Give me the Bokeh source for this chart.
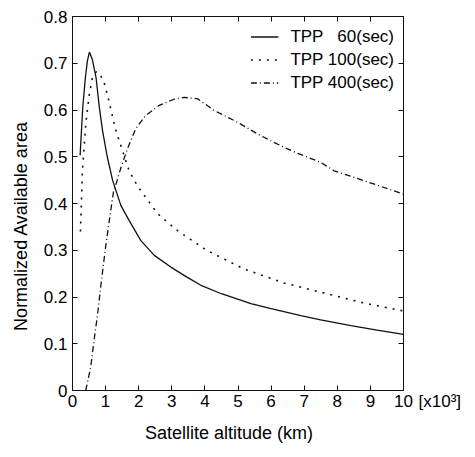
from bokeh.plotting import figure
from bokeh.models import (Legend, LegendItem, LinearAxis, Range1d, FixedTicker,
                          CustomJSTickFormatter)
from bokeh.embed import file_html
from bokeh.resources import INLINE

# Satellite altitude (x10^3 km) and normalized available area
alt_60 = [0.23, 0.31, 0.39, 0.45, 0.51, 0.60, 0.71, 0.81, 0.91, 1.05, 1.21, 1.46, 1.71,
          2.06, 2.47, 2.97, 3.47, 3.88, 4.50, 5.39, 6.00, 6.90, 7.50, 8.41, 9.20, 10.0]
val_60 = [0.503, 0.606, 0.670, 0.705, 0.724, 0.708, 0.670, 0.606, 0.555, 0.500, 0.450,
          0.396, 0.364, 0.321, 0.289, 0.264, 0.242, 0.225, 0.207, 0.186, 0.175, 0.160,
          0.151, 0.139, 0.129, 0.120]

alt_100 = [0.24, 0.30, 0.40, 0.50, 0.60, 0.72, 0.82, 0.95, 1.07, 1.31, 1.71, 1.96, 2.57,
           3.17, 4.05, 5.18, 6.39, 7.80, 8.81, 10.0]
val_100 = [0.340, 0.470, 0.570, 0.630, 0.668, 0.682, 0.678, 0.660, 0.628, 0.556, 0.470,
           0.438, 0.378, 0.342, 0.300, 0.260, 0.230, 0.205, 0.187, 0.170]

alt_400 = [0.40, 0.55, 0.65, 0.76, 0.85, 1.00, 1.14, 1.24, 1.36, 1.46, 1.66, 1.91, 2.21,
           2.62, 3.07, 3.37, 3.78, 4.28, 4.98, 5.69, 6.39, 6.85, 7.50, 7.90, 8.80, 10.0]
val_400 = [0.000, 0.050, 0.107, 0.164, 0.221, 0.307, 0.378, 0.425, 0.452, 0.476, 0.517,
           0.560, 0.588, 0.610, 0.623, 0.627, 0.624, 0.599, 0.574, 0.545, 0.520, 0.506,
           0.488, 0.470, 0.449, 0.420]

series_labels = ["TPP \u200760(sec)", "TPP 100(sec)", "TPP 400(sec)"]
x_ticks = [0, 1, 2, 3, 4, 5, 6, 7, 8, 9, 10]
y_ticks = [0, 0.1, 0.2, 0.3, 0.4, 0.5, 0.6, 0.7, 0.8]
y_tick_labels = ["0", "0.1", "0.2", "0.3", "0.4", "0.5", "0.6", "0.7", "0.8"]
x_multiplier = "[x10\u00b3]"
x_title = "Satellite altitude (km)"
y_title = "Normalized Available area"

FONT = "Liberation Sans"
INK = "#111111"

p = figure(width=470, height=452, output_backend="svg", toolbar_location=None,
           x_range=Range1d(0, 10), y_range=Range1d(0, 0.8),
           min_border_left=72, min_border_right=67, min_border_top=16,
           min_border_bottom=62, background_fill_color="white",
           border_fill_color="white")
p.grid.visible = False
p.outline_line_color = INK

r60 = p.line(alt_60, val_60, line_color=INK, line_width=1.3)
r100 = p.line(alt_100, val_100, line_color=INK, line_width=1.6, line_dash="2 6")
r400 = p.line(alt_400, val_400, line_color=INK, line_width=1.3, line_dash="6 3 1 3")

def style_axis(ax, ticks):
    ax.ticker = FixedTicker(ticks=ticks)
    ax.major_tick_in = 5
    ax.major_tick_out = 0
    ax.minor_tick_in = 0
    ax.minor_tick_out = 0
    ax.axis_line_color = INK
    ax.major_tick_line_color = INK
    ax.major_label_text_font = FONT
    ax.major_label_text_font_size = "17px"
    ax.major_label_text_color = "black"
    ax.axis_label_text_font = FONT
    ax.axis_label_text_font_size = "18px"
    ax.axis_label_text_font_style = "normal"
    ax.axis_label_text_color = "black"

style_axis(p.xaxis[0], x_ticks)
style_axis(p.yaxis[0], y_ticks)
p.yaxis[0].major_label_overrides = {t: s for t, s in zip(y_ticks, y_tick_labels)}
p.xaxis[0].major_label_standoff = 4
p.yaxis[0].major_label_standoff = 5

# trailing em-spaces nudge the titles off-centre, as in the original
p.xaxis[0].axis_label = x_title + "\u2003"
p.xaxis[0].axis_label_standoff = 13
p.yaxis[0].axis_label = y_title + "\u2003\u2003\u2002"
p.yaxis[0].axis_label_standoff = 10

blank = CustomJSTickFormatter(code="return ''")
top_ax = LinearAxis(formatter=blank)
right_ax = LinearAxis(formatter=blank)
style_axis(top_ax, x_ticks)
style_axis(right_ax, y_ticks)
top_ax.major_label_standoff = 0
top_ax.major_label_text_font_size = "1px"
# the x-axis multiplier sits right of the frame, on the tick-label line
right_ax.major_label_overrides = {0: "\n" + x_multiplier}
right_ax.major_label_standoff = 15
p.add_layout(top_ax, "above")
p.add_layout(right_ax, "right")

legend = Legend(items=[LegendItem(label=series_labels[0], renderers=[r60]),
                       LegendItem(label=series_labels[1], renderers=[r100]),
                       LegendItem(label=series_labels[2], renderers=[r400])],
                location="top_right", margin=0, padding=9, spacing=0,
                glyph_width=28, glyph_height=23, label_height=23,
                label_standoff=12, label_text_font=FONT,
                label_text_font_size="17px", label_text_color="black",
                border_line_alpha=0, background_fill_alpha=0)
p.add_layout(legend)

open("out.html", "w").write(file_html(p, INLINE))
